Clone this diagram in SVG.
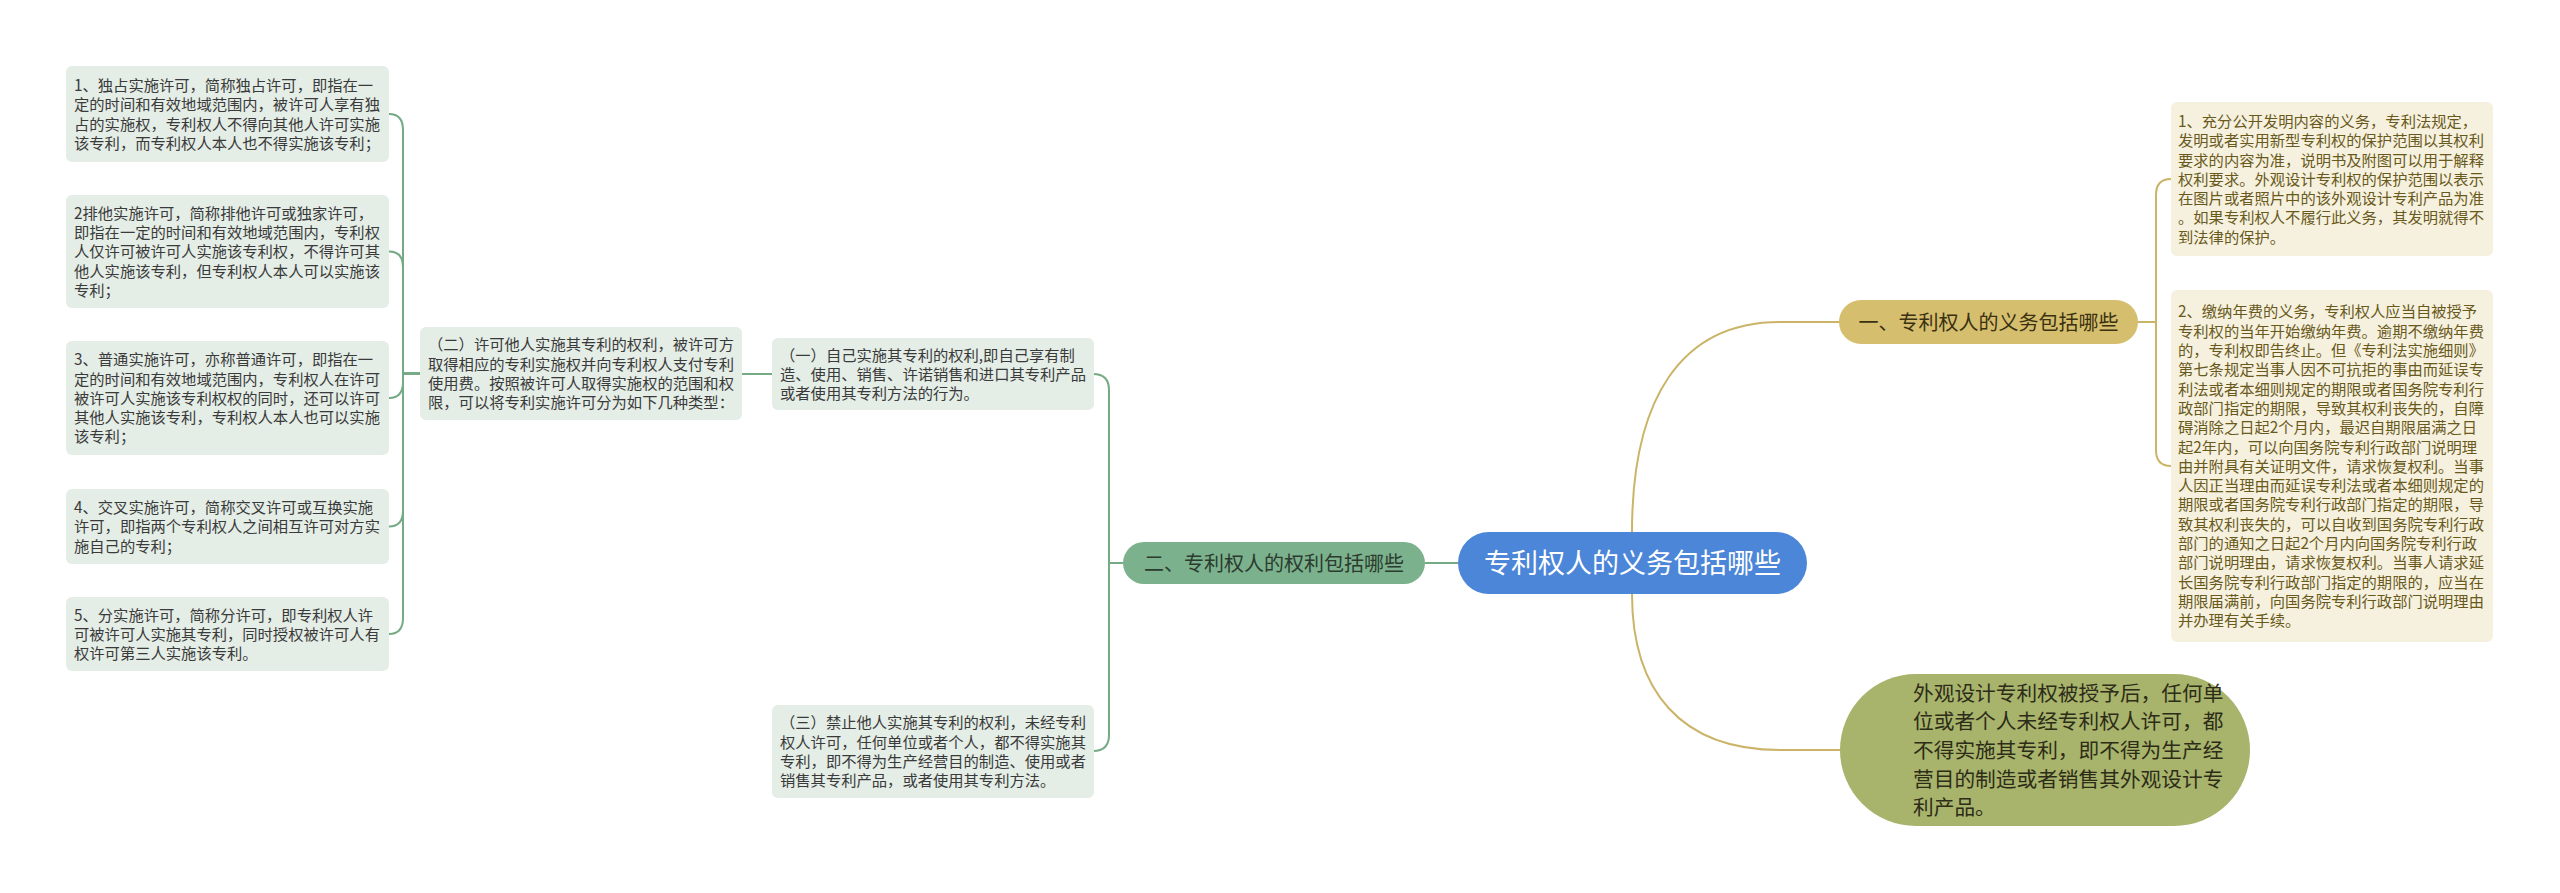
<svg xmlns="http://www.w3.org/2000/svg" width="2560" height="893" viewBox="0 0 2560 893">
<style>
text{font-family:"Noto Sans CJK SC","Noto Sans",sans-serif;}
.lbox{fill:#e4ede6;}
.ltxt{font-size:15.3px;fill:#3a3a3a;}
.rbox{fill:#f5f1de;}
.rtxt{font-size:15.3px;fill:#6a591c;}
.gc{fill:none;stroke:#74aa84;stroke-width:2;}
.yc{fill:none;stroke:#cbb468;stroke-width:2;}
</style>
<rect width="2560" height="893" fill="#ffffff"/>
<g id="connectors">
<path class="gc" d="M1458,563 H1425"/>
<path class="gc" d="M1123,563 H1109 V390 Q1109,374 1093,374 H742"/>
<path class="gc" d="M1123,563 H1109 V735 Q1109,751 1093,751"/>
<path class="gc" d="M420,373.5 H403 V130 Q403,114 389,114"/>
<path class="gc" d="M420,373.5 H403 V267 Q403,251.5 389,251.5"/>
<path class="gc" d="M420,373.5 H403 V382 Q403,398 389,398"/>
<path class="gc" d="M420,373.5 H403 V510.5 Q403,526.5 389,526.5"/>
<path class="gc" d="M420,373.5 H403 V618 Q403,634 389,634"/>
<path class="yc" d="M1632,532 C1632,400 1680,322 1780,322 L1840,322"/>
<path class="yc" d="M1632,594 C1632,690 1680,750 1780,750 L1840,750"/>
<path class="yc" d="M2137,322 H2156 V195 Q2156,179 2171,179"/>
<path class="yc" d="M2137,322 H2156 V450 Q2156,466 2171,466"/>
</g>
<g id="center">
<rect x="1458" y="532" width="349" height="62" rx="31" fill="#4c86d8"/>
<text x="1632.5" y="573.3" font-size="27" fill="#ffffff" text-anchor="middle">专利权人的义务包括哪些</text>
</g>
<g id="n-rights">
<rect x="1123" y="542" width="302" height="42" rx="21" fill="#7bb18c"/>
<text x="1274" y="570.6" font-size="20" fill="#2b3b2f" text-anchor="middle">二、专利权人的权利包括哪些</text>
</g>
<g id="n-duties">
<rect x="1839" y="300" width="299" height="44" rx="22" fill="#d5be6e"/>
<text x="1988.5" y="329.6" font-size="20" fill="#3a3110" text-anchor="middle">一、专利权人的义务包括哪些</text>
</g>
<g id="n-design">
<rect x="1840" y="674" width="410" height="152" rx="76" fill="#a8b36b"/>
<text font-size="20.7" fill="#2c2c18" x="1913" y="700.7"><tspan x="1913">外观设计专利权被授予后，任何单</tspan><tspan x="1913" dy="28.6">位或者个人未经专利权人许可，都</tspan><tspan x="1913" dy="28.6">不得实施其专利，即不得为生产经</tspan><tspan x="1913" dy="28.6">营目的制造或者销售其外观设计专</tspan><tspan x="1913" dy="28.6">利产品。</tspan></text>
</g>
<g id="n-r1">
<rect class="rbox" x="2171" y="102" width="322" height="154" rx="6"/>
<text class="rtxt" y="126.9"><tspan x="2178">1、充分公开发明内容的义务，专利法规定，</tspan><tspan x="2178" dy="19.3">发明或者实用新型专利权的保护范围以其权利</tspan><tspan x="2178" dy="19.3">要求的内容为准，说明书及附图可以用于解释</tspan><tspan x="2178" dy="19.3">权利要求。外观设计专利权的保护范围以表示</tspan><tspan x="2178" dy="19.3">在图片或者照片中的该外观设计专利产品为准</tspan><tspan x="2178" dy="19.3">。如果专利权人不履行此义务，其发明就得不</tspan><tspan x="2178" dy="19.3">到法律的保护。</tspan></text>
</g>
<g id="n-r2">
<rect class="rbox" x="2171" y="290" width="322" height="352" rx="6"/>
<text class="rtxt" y="317.4"><tspan x="2178">2、缴纳年费的义务，专利权人应当自被授予</tspan><tspan x="2178" dy="19.3">专利权的当年开始缴纳年费。逾期不缴纳年费</tspan><tspan x="2178" dy="19.3">的，专利权即告终止。但《专利法实施细则》</tspan><tspan x="2178" dy="19.3">第七条规定当事人因不可抗拒的事由而延误专</tspan><tspan x="2178" dy="19.3">利法或者本细则规定的期限或者国务院专利行</tspan><tspan x="2178" dy="19.3">政部门指定的期限，导致其权利丧失的，自障</tspan><tspan x="2178" dy="19.3">碍消除之日起2个月内，最迟自期限届满之日</tspan><tspan x="2178" dy="19.3">起2年内，可以向国务院专利行政部门说明理</tspan><tspan x="2178" dy="19.3">由并附具有关证明文件，请求恢复权利。当事</tspan><tspan x="2178" dy="19.3">人因正当理由而延误专利法或者本细则规定的</tspan><tspan x="2178" dy="19.3">期限或者国务院专利行政部门指定的期限，导</tspan><tspan x="2178" dy="19.3">致其权利丧失的，可以自收到国务院专利行政</tspan><tspan x="2178" dy="19.3">部门的通知之日起2个月内向国务院专利行政</tspan><tspan x="2178" dy="19.3">部门说明理由，请求恢复权利。当事人请求延</tspan><tspan x="2178" dy="19.3">长国务院专利行政部门指定的期限的，应当在</tspan><tspan x="2178" dy="19.3">期限届满前，向国务院专利行政部门说明理由</tspan><tspan x="2178" dy="19.3">并办理有关手续。</tspan></text>
</g>
<g id="n-m1">
<rect class="lbox" x="420" y="327" width="322" height="93" rx="6"/>
<text class="ltxt" y="350.4"><tspan x="428">（二）许可他人实施其专利的权利，被许可方</tspan><tspan x="428" dy="19.3">取得相应的专利实施权并向专利权人支付专利</tspan><tspan x="428" dy="19.3">使用费。按照被许可人取得实施权的范围和权</tspan><tspan x="428" dy="19.3">限，可以将专利实施许可分为如下几种类型：</tspan></text>
</g>
<g id="n-m2">
<rect class="lbox" x="772" y="338" width="322" height="72" rx="6"/>
<text class="ltxt" y="360.5"><tspan x="780">（一）自己实施其专利的权利,即自己享有制</tspan><tspan x="780" dy="19.3">造、使用、销售、许诺销售和进口其专利产品</tspan><tspan x="780" dy="19.3">或者使用其专利方法的行为。</tspan></text>
</g>
<g id="n-m3">
<rect class="lbox" x="772" y="705" width="322" height="93" rx="6"/>
<text class="ltxt" y="728.4"><tspan x="780">（三）禁止他人实施其专利的权利，未经专利</tspan><tspan x="780" dy="19.3">权人许可，任何单位或者个人，都不得实施其</tspan><tspan x="780" dy="19.3">专利，即不得为生产经营目的制造、使用或者</tspan><tspan x="780" dy="19.3">销售其专利产品，或者使用其专利方法。</tspan></text>
</g>
<g id="n-l1">
<rect class="lbox" x="66" y="66" width="323" height="96" rx="6"/>
<text class="ltxt" y="91.1"><tspan x="74">1、独占实施许可，简称独占许可，即指在一</tspan><tspan x="74" dy="19.3">定的时间和有效地域范围内，被许可人享有独</tspan><tspan x="74" dy="19.3">占的实施权，专利权人不得向其他人许可实施</tspan><tspan x="74" dy="19.3">该专利，而专利权人本人也不得实施该专利；</tspan></text>
</g>
<g id="n-l2">
<rect class="lbox" x="66" y="195" width="323" height="113" rx="6"/>
<text class="ltxt" y="218.7"><tspan x="74">2排他实施许可，简称排他许可或独家许可，</tspan><tspan x="74" dy="19.3">即指在一定的时间和有效地域范围内，专利权</tspan><tspan x="74" dy="19.3">人仅许可被许可人实施该专利权，不得许可其</tspan><tspan x="74" dy="19.3">他人实施该专利，但专利权人本人可以实施该</tspan><tspan x="74" dy="19.3">专利；</tspan></text>
</g>
<g id="n-l3">
<rect class="lbox" x="66" y="341" width="323" height="114" rx="6"/>
<text class="ltxt" y="365.2"><tspan x="74">3、普通实施许可，亦称普通许可，即指在一</tspan><tspan x="74" dy="19.3">定的时间和有效地域范围内，专利权人在许可</tspan><tspan x="74" dy="19.3">被许可人实施该专利权权的同时，还可以许可</tspan><tspan x="74" dy="19.3">其他人实施该专利，专利权人本人也可以实施</tspan><tspan x="74" dy="19.3">该专利；</tspan></text>
</g>
<g id="n-l4">
<rect class="lbox" x="66" y="489" width="323" height="75" rx="6"/>
<text class="ltxt" y="513"><tspan x="74">4、交叉实施许可，简称交叉许可或互换实施</tspan><tspan x="74" dy="19.3">许可，即指两个专利权人之间相互许可对方实</tspan><tspan x="74" dy="19.3">施自己的专利；</tspan></text>
</g>
<g id="n-l5">
<rect class="lbox" x="66" y="597" width="323" height="74" rx="6"/>
<text class="ltxt" y="620.5"><tspan x="74">5、分实施许可，简称分许可，即专利权人许</tspan><tspan x="74" dy="19.3">可被许可人实施其专利，同时授权被许可人有</tspan><tspan x="74" dy="19.3">权许可第三人实施该专利。</tspan></text>
</g>
</svg>
